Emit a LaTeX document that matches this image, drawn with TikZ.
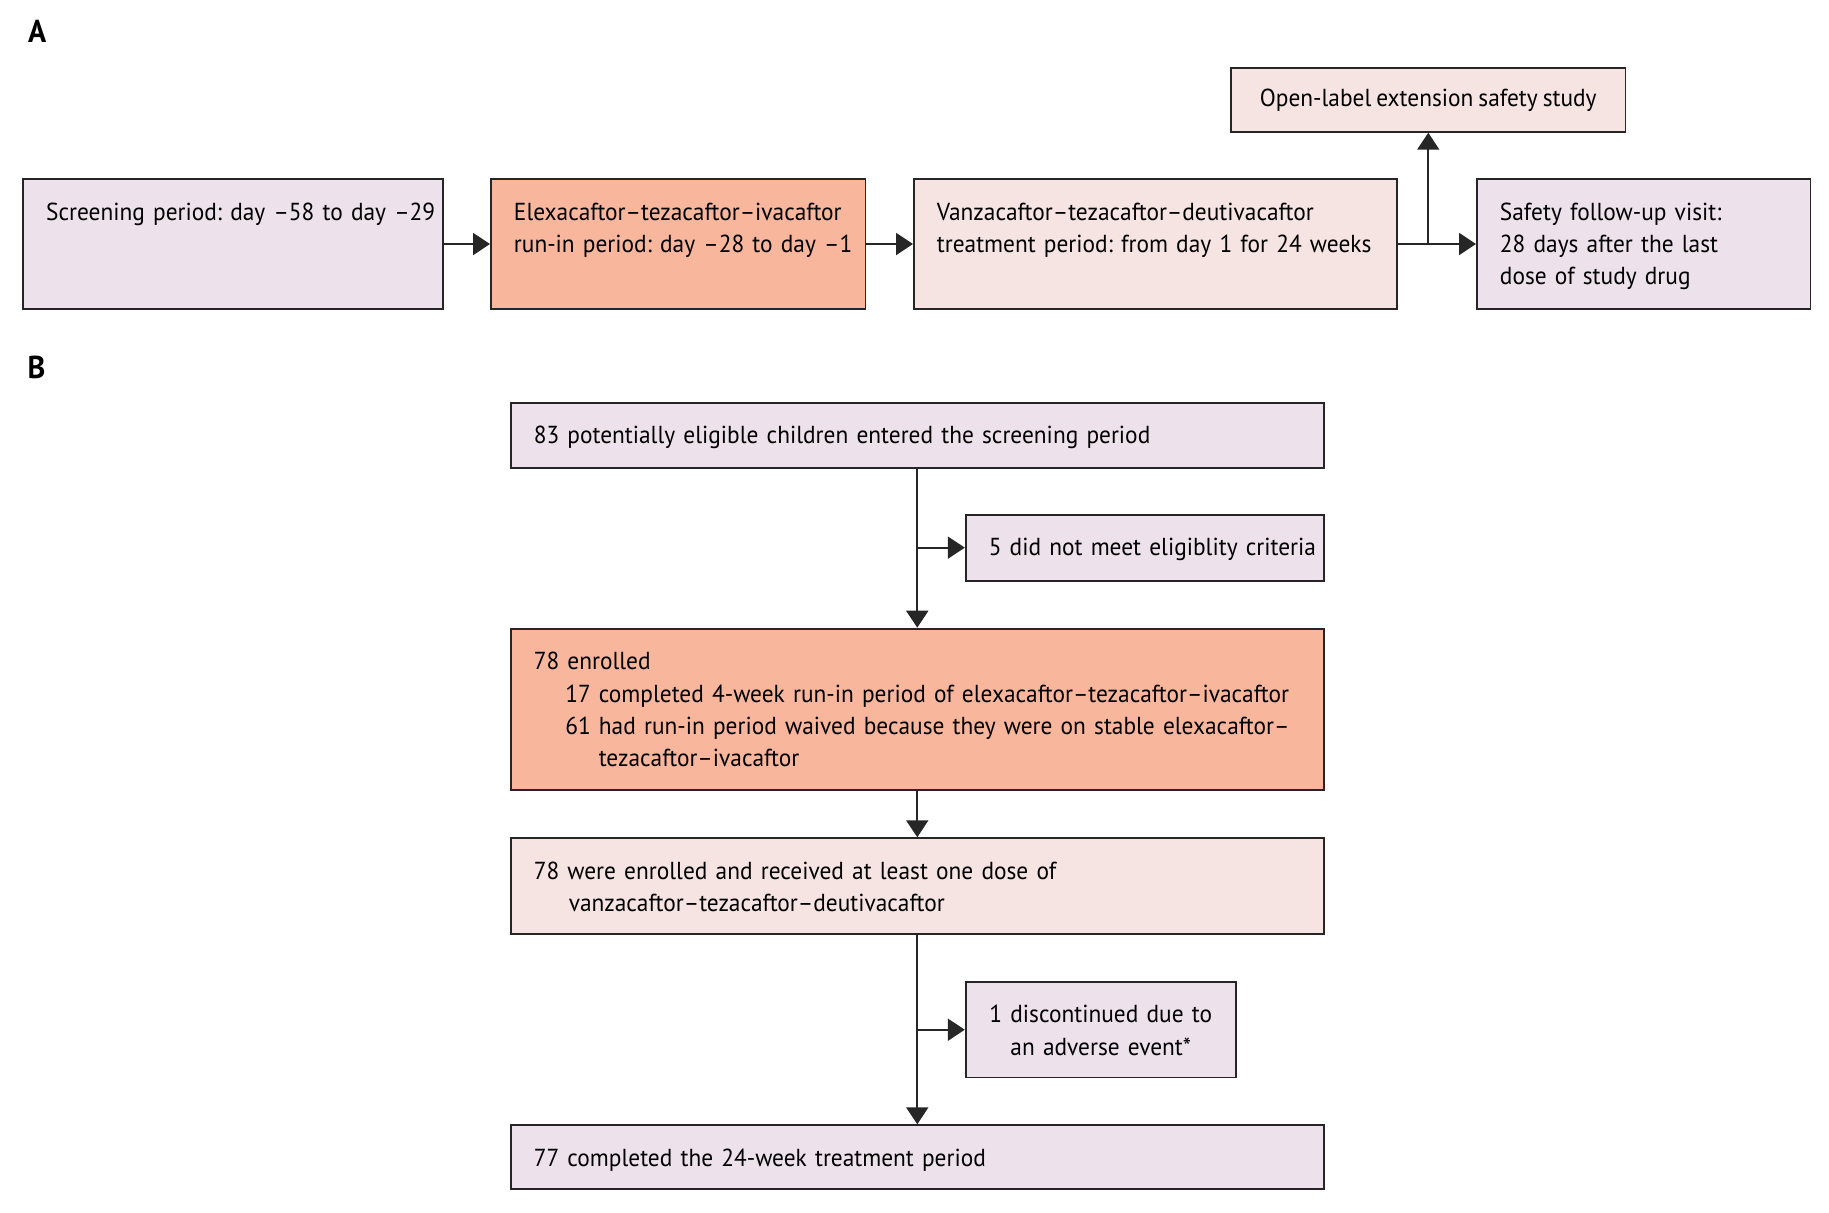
\documentclass[tikz,border=0pt]{standalone}
\usepackage{fontspec}
\setmainfont[FakeStretch=0.95,WordSpace=0.8]{PT Sans}
\usetikzlibrary{arrows.meta,positioning}

\definecolor{lavender}{RGB}{237,225,236}
\definecolor{salmon}{RGB}{248,183,156}
\definecolor{blush}{RGB}{245,228,226}

\begin{document}
\frenchspacing
\begin{tikzpicture}[
    font=\fontsize{14}{18.4}\selectfont,
    period/.style={
        rectangle, draw=black!85, line width=1.1pt,
        anchor=north west, align=left,
        inner xsep=0.46cm, inner ysep=0pt, text height=0.82cm,
        execute at begin node={\rightskip=-2cm plus 1fil\relax}
    },
    flowbox/.style={
        rectangle, draw=black!85, line width=1.1pt,
        anchor=north west, align=left,
        inner xsep=0.46cm, inner ysep=0pt, text height=0.82cm,
        execute at begin node={\rightskip=-2cm plus 1fil\relax}
    },
    eventbox/.style={
        rectangle, draw=black!85, line width=1.1pt,
        anchor=north west, align=center,
        inner xsep=0.2cm, inner ysep=0pt, text height=0.82cm
    },
    extbox/.style={
        rectangle, draw=black!85, line width=1.1pt,
        minimum width=7.89cm, minimum height=1.27cm
    },
    panel/.style={anchor=base west, font=\fontsize{18}{20}\selectfont\bfseries},
    arrow/.style={-{Triangle[length=0.34cm,width=0.44cm]}, line width=1.1pt, black!85}
]
\useasboundingbox (0,0) rectangle (36.58,-24.26);

% Pannello A
\node[panel] (labA) at (0.44,-0.86) {A};

\node[period, fill=lavender, text width=7.48cm, text depth=1.77cm] (screen) at (0.444,-3.566)
    {Screening period: day –58 to day –29};
\node[period, fill=salmon, text width=6.57cm, text depth=1.77cm] (runin) at (9.80,-3.566)
    {Elexacaftor–tezacaftor–ivacaftor\\run-in period: day –28 to day –1};
\node[period, fill=blush, text width=8.74cm, text depth=1.77cm] (treat) at (18.26,-3.566)
    {Vanzacaftor–tezacaftor–deutivacaftor\\treatment period: from day 1 for 24 weeks};
\node[period, fill=lavender, text width=5.75cm, text depth=1.77cm] (follow) at (29.52,-3.566)
    {Safety follow-up visit:\\28 days after the last\\dose of study drug};
\node[extbox, fill=blush] (ole) at (28.565,-2.0) {Open-label extension safety study};

\draw[arrow] (screen) -- (runin);
\draw[arrow] (runin) -- (treat);
\draw[arrow] (treat) -- (follow);
\draw[arrow] (ole.south |- treat.east) -- (ole);

% Pannello B
\node[panel] (labB) at (0.43,-7.58) {B};

\node[flowbox, fill=lavender, text width=15.34cm, text depth=0.48cm] (screened) at (10.196,-8.034)
    {83 potentially eligible children entered the screening period};
\node[flowbox, fill=lavender, text width=6.24cm, text depth=0.5cm] (excluded) at (19.296,-10.274)
    {5 did not meet eligiblity criteria};
\node[flowbox, fill=salmon, text width=15.34cm, text depth=2.40cm] (enrolled) at (10.196,-12.554)
    {78 enrolled\\
     \hspace*{0.63cm}17 completed 4-week run-in period of elexacaftor–tezacaftor–ivacaftor\\
     \hspace*{0.63cm}61 had run-in period waived because they were on stable elexacaftor–\\
     \hspace*{1.3cm}tezacaftor–ivacaftor};
\node[flowbox, fill=blush, text width=15.34cm, text depth=1.10cm] (received) at (10.196,-16.746)
    {78 were enrolled and received at least one dose of\\
     \hspace*{0.7cm}vanzacaftor–tezacaftor–deutivacaftor};
\node[eventbox, fill=lavender, text width=5.0cm, text depth=1.09cm] (discont) at (19.296,-19.62)
    {1 discontinued due to\\an adverse event*};
\node[flowbox, fill=lavender, text width=15.34cm, text depth=0.45cm] (completed) at (10.196,-22.486)
    {77 completed the 24-week treatment period};

\draw[arrow] (screened) -- (enrolled);
\draw[arrow] (screened.south |- excluded) -- (excluded);
\draw[arrow] (enrolled) -- (received);
\draw[arrow] (received) -- (completed);
\draw[arrow] (received.south |- discont) -- (discont);

\end{tikzpicture}
\end{document}
